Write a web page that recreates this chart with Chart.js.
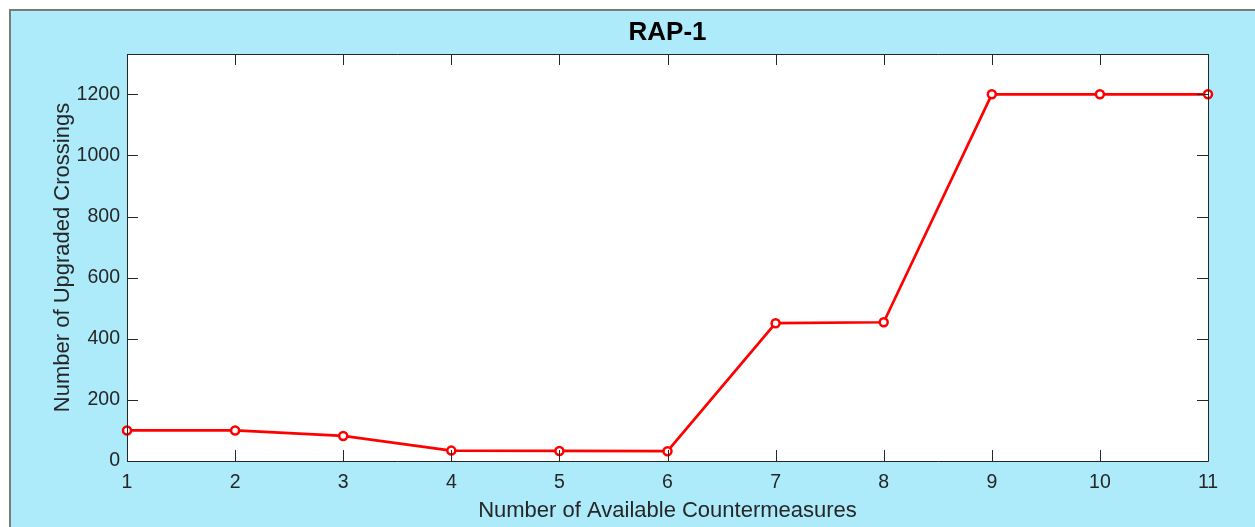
<!DOCTYPE html>
<html>
<head>
<meta charset="utf-8">
<script src="https://cdn.jsdelivr.net/npm/chart.js@4/dist/chart.umd.min.js"></script>
<style>
html,body{margin:0;padding:0;background:#fff;}
#wrap{position:relative;width:1255px;height:527px;}
</style>
</head>
<body>
<div id="wrap"><canvas id="c" width="1255" height="527"></canvas></div>
<script>
const categories = [1, 2, 3, 4, 5, 6, 7, 8, 9, 10, 11];
const upgraded = [100, 100, 82, 34, 33, 32, 451, 454, 1200, 1200, 1200];
const xTicks = [1, 2, 3, 4, 5, 6, 7, 8, 9, 10, 11];
const yTicks = [0, 200, 400, 600, 800, 1000, 1200];
const chartTitle = 'RAP-1';
const xTitle = 'Number of Available Countermeasures';
const yTitle = 'Number of Upgraded Crossings';

const FONT = '"Liberation Sans", Arial, Helvetica, sans-serif';
const AX = '#262626';
const BG = '#ADEBFB';

const framePlugin = {
  id: 'frame',
  beforeDraw(chart) {
    const ctx = chart.ctx;
    ctx.save();
    ctx.fillStyle = '#ffffff';
    ctx.fillRect(0, 0, chart.width, chart.height);
    ctx.fillStyle = BG;
    ctx.fillRect(9, 9, chart.width - 9, chart.height - 9);
    ctx.strokeStyle = '#7a7a7a';
    ctx.lineWidth = 2;
    ctx.beginPath();
    ctx.moveTo(10, chart.height);
    ctx.lineTo(10, 10);
    ctx.lineTo(chart.width, 10);
    ctx.stroke();
    const a = chart.chartArea;
    ctx.fillStyle = '#ffffff';
    ctx.fillRect(a.left, a.top, a.right - a.left, a.bottom - a.top);
    ctx.restore();
  },
  afterDatasetsDraw(chart) {
    const ctx = chart.ctx;
    const a = chart.chartArea;
    const xs = chart.scales.x, ys = chart.scales.y;
    const TL = 11;
    ctx.save();
    ctx.strokeStyle = AX;
    ctx.lineWidth = 1;
    ctx.beginPath();
    xTicks.forEach(v => {
      const px = Math.round(xs.getPixelForValue(v)) + 0.5;
      ctx.moveTo(px, a.bottom); ctx.lineTo(px, a.bottom - TL);
      ctx.moveTo(px, a.top); ctx.lineTo(px, a.top + TL);
    });
    yTicks.forEach(v => {
      const py = Math.round(ys.getPixelForValue(v)) + 0.5;
      ctx.moveTo(a.left, py); ctx.lineTo(a.left + TL, py);
      ctx.moveTo(a.right, py); ctx.lineTo(a.right - TL, py);
    });
    ctx.stroke();
    ctx.beginPath();
    ctx.rect(Math.round(a.left) + 0.5, Math.round(a.top) + 0.5, Math.round(a.right - a.left), Math.round(a.bottom - a.top));
    ctx.stroke();
    ctx.restore();
  }
};

new Chart(document.getElementById('c'), {
  type: 'line',
  data: {
    datasets: [{
      data: categories.map((c, i) => ({ x: c, y: upgraded[i] })),
      borderColor: '#ff0000',
      borderWidth: 2.7,
      pointRadius: 4,
      pointBorderWidth: 2.5,
      pointBorderColor: '#ff0000',
      pointBackgroundColor: '#ffffff',
      tension: 0,
      clip: false
    }]
  },
  plugins: [framePlugin],
  options: {
    responsive: false,
    animation: false,
    devicePixelRatio: 1,
    layout: { padding: { left: 0, right: 47, top: 17, bottom: 0 } },
    plugins: {
      legend: { display: false },
      tooltip: { enabled: false },
      title: {
        display: true,
        text: chartTitle,
        fullSize: false,
        color: '#000',
        font: { family: FONT, size: 26, weight: 'bold', lineHeight: 1.2 },
        padding: { top: 0, bottom: 5.8 }
      }
    },
    scales: {
      x: {
        type: 'linear',
        min: 1, max: 11,
        offset: false,
        afterBuildTicks: s => { s.ticks = xTicks.map(v => ({ value: v })); },
        afterFit: s => { s.height = 66; },
        grid: { display: false, drawTicks: false },
        border: { display: false },
        ticks: { color: AX, padding: 10, maxRotation: 0, autoSkip: false, callback: v => String(v), font: { family: FONT, size: 19.5 } },
        title: { display: true, text: xTitle, color: AX, font: { family: FONT, size: 22, lineHeight: 1.2 }, padding: { top: 0, bottom: 2.8 } }
      },
      y: {
        type: 'linear',
        min: 0, max: 1332,
        afterBuildTicks: s => { s.ticks = yTicks.map(v => ({ value: v })); },
        afterFit: s => { s.width = 127; },
        grid: { display: false, drawTicks: false },
        border: { display: false },
        ticks: { color: AX, padding: 7, callback: v => String(v), font: { family: FONT, size: 19.5 } },
        title: { display: true, text: yTitle, color: AX, font: { family: FONT, size: 22, lineHeight: 1.2 }, padding: { top: 49.3, bottom: 0 } }
      }
    }
  }
});
</script>
</body>
</html>
